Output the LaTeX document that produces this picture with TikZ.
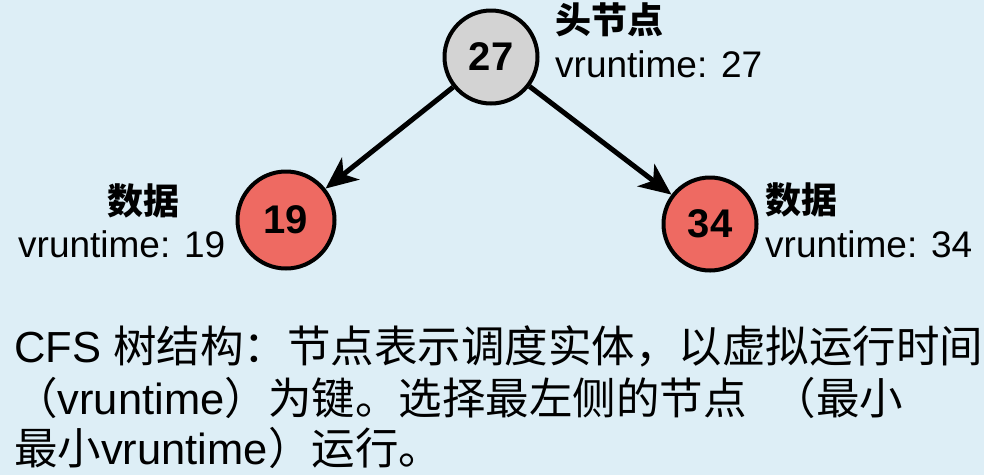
\documentclass[tikz,border=0pt]{standalone}
\usepackage{fontspec}
\setmainfont{Liberation Sans}
\newfontfamily\cjk{Noto Sans CJK SC}
\usetikzlibrary{arrows.meta}
\definecolor{sky}{HTML}{DDEEF6}
\definecolor{headgray}{HTML}{D3D3D3}
\definecolor{datared}{HTML}{EE6A62}

\begin{document}
\begin{tikzpicture}[x=1pt,y=-1pt,
  key/.style={circle,draw=black,line width=4pt,minimum size=93pt,inner sep=0pt,font=\fontsize{40}{44}\selectfont\bfseries},
  tag/.style={anchor=base west,inner sep=0pt,font=\fontsize{36}{40}\selectfont\cjk\bfseries},
  vr/.style={anchor=base west,inner sep=0pt,font=\fontsize{37}{40}\selectfont},
  note/.style={anchor=base west,inner sep=0pt,font=\fontsize{43.5}{50}\selectfont},
  arr/.style={-{Stealth[length=32pt,width=28pt,inset=9pt]},line width=5pt}]
\fill[sky] (0,0) rectangle (984,475);
\useasboundingbox (0,0) rectangle (984,475);
% tree
\node[key,fill=headgray] (h) at (491,57) {27};
\node[key,fill=datared,minimum size=97pt] (l) at (286,220) {19};
\node[key,fill=datared] (r) at (710,224) {34};
\draw[arr] (h) -- (l); \draw[arr] (h) -- (r);
% labels
\node[tag] (ht) at (555,33) {头节点};
\node[vr] (hv) at (555,77) {vruntime: 27};
\node[tag] (lt) at (107,214) {数据};
\node[vr] (lv) at (18,257) {vruntime: 19};
\node[tag] (rt) at (765,213) {数据};
\node[vr] (rv) at (765,257) {vruntime: 34};
% caption
\node[note] (c1) at (14,362) {CFS {\cjk 树结构：节点表示调度实体，以虚拟运行时间}};
\node[note] (c2) at (14,414) {{\cjk （}vruntime{\cjk ）为键。选择最左侧的节点}\hspace{14pt} {\cjk （最小}};
\node[note] (c3) at (14,464) {{\cjk 最小}vruntime{\cjk ）运行。}};
\end{tikzpicture}
\end{document}
